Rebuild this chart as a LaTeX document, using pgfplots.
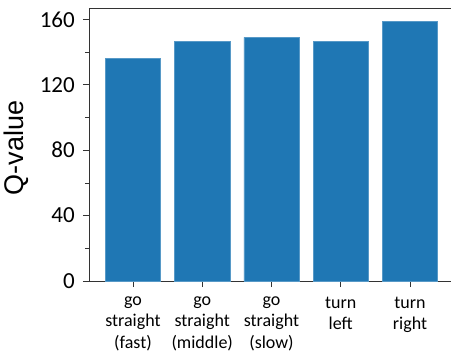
\documentclass[border=0pt]{standalone}
\usepackage{pgfplots}
\pgfplotsset{compat=1.18}
\usepackage{fontspec}
\setmainfont{Carlito}
\newfontfamily\arialf{Liberation Sans}
\definecolor{barblue}{HTML}{1F77B4}
\definecolor{spine}{HTML}{333333}
\begin{document}
\begin{tikzpicture}
\begin{axis}[
  scale only axis, width=362bp, height=273bp,
  xmin=-0.635, xmax=4.592, ymin=0, ymax=167,
  axis lines*=left,
  axis line style={spine, line width=0.9bp},
  every tick/.style={spine, line width=0.8bp},
  tick align=outside,
  major tick length=6bp, minor tick length=4bp,
  ytick={0,40,80,120,160},
  minor ytick={20,60,100,140},
  xtick={0,1,2,3,4},
  xticklabels={go\\straight\\(fast), go\\straight\\(middle), go\\straight\\(slow), turn\\left, turn\\right},
  /pgf/number format/assume math mode=true,
  yticklabel style={font=\fontsize{23bp}{27bp}\selectfont, inner sep=0pt},
  yticklabel shift=8bp,
  xticklabel style={font=\fontsize{18bp}{21.5bp}\selectfont, align=center, inner sep=0pt, anchor=north},
  xticklabel shift=9.5bp,
  ylabel={\arialf Q-value},
  every axis y label/.style={at={([xshift=-60bp]rel axis cs:0,0.487)}, rotate=90, anchor=south, inner sep=0pt, font=\fontsize{27bp}{30bp}\selectfont},
  ybar, bar width=0.8,
  clip=false,
]
\addplot[fill=barblue, draw=barblue!75!white, line width=0.5bp] coordinates {(0,136.4) (1,146.4) (2,149) (3,146.4) (4,159)};
\draw[spine, line width=0.9bp] (rel axis cs:0,1) -- (rel axis cs:1,1);
\coordinate (ll) at (rel axis cs:0,0);
\coordinate (ur) at (rel axis cs:1,1);
\end{axis}
\pgfresetboundingbox
\path[use as bounding box] ([shift={(-89bp,-72bp)}]ll) rectangle ([shift={(0bp,8bp)}]ur);
\end{tikzpicture}
\end{document}
